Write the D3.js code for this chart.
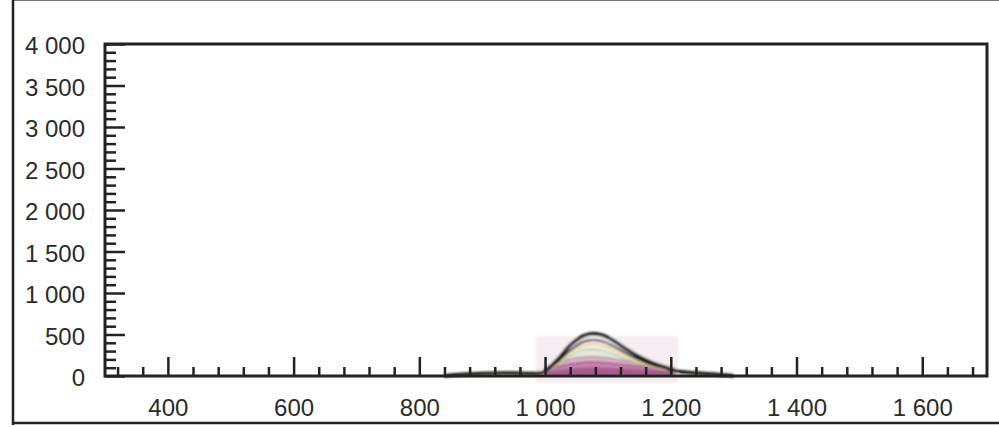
<!DOCTYPE html>
<html>
<head>
<meta charset="utf-8">
<script src="https://cdn.jsdelivr.net/npm/d3@7/dist/d3.min.js"></script>
<style>
  html, body { margin: 0; padding: 0; background: #fff; }
  svg { display: block; }
  text { font-family: "Liberation Sans", Arial, sans-serif; fill: #2b2b2b; }
</style>
</head>
<body>
<svg id="chart" width="999" height="427"></svg>
<script>
// Wavelength grid (nm) shared by every spectrum
const wavelengths = [840, 870, 900, 940, 980, 995, 1000, 1020, 1040, 1060, 1075, 1090, 1110, 1130, 1150, 1170, 1190, 1205, 1210, 1240, 1270, 1300];

// Emission spectra, outermost to innermost
const s1 = [0, 20, 30, 35, 30, 40, 60, 200, 370, 480, 510, 495, 420, 320, 230, 160, 110, 70, 60, 35, 20, 0];
const s2 = [0, 10, 20, 25, 20, 30, 50, 170, 310, 410, 435, 420, 355, 270, 195, 135, 95, 60, 50, 25, 10, 0];
const s3 = [0, 0, 0, 0, 0, 0, 40, 150, 280, 360, 385, 370, 310, 235, 170, 120, 85, 55, 0, 0, 0, 0];
const s4 = [0, 0, 0, 0, 0, 0, 40, 130, 240, 310, 325, 310, 260, 200, 150, 110, 80, 60, 0, 0, 0, 0];
const s5 = [0, 0, 0, 0, 0, 0, 100, 150, 200, 225, 230, 225, 205, 180, 155, 130, 110, 95, 0, 0, 0, 0];
const s6 = [0, 0, 0, 0, 0, 0, 70, 110, 145, 165, 170, 165, 150, 135, 120, 105, 90, 80, 0, 0, 0, 0];
const s7 = [0, 0, 0, 0, 0, 0, 50, 70, 90, 100, 105, 100, 95, 90, 85, 75, 70, 60, 0, 0, 0, 0];

// Axis ticks
const xMajorTicks = [400, 600, 800, 1000, 1200, 1400, 1600];
const xMinorTicks = d3.range(320, 1700, 40);
const yMajorTicks = [0, 500, 1000, 1500, 2000, 2500, 3000, 3500, 4000];
const yMinorTicks = d3.range(0, 4001, 100);

const svg = d3.select("#chart");

const x = d3.scaleLinear().domain([300, 1703]).range([105, 987]);
const y = d3.scaleLinear().domain([0, 4000]).range([376, 44]);

// Numbers use a space as thousands separator
const loc = d3.formatLocale({ decimal: ",", thousands: " ", grouping: [3], currency: ["", ""] });
const fmtLabel = loc.format(",d");

// Outer frame
svg.append("line").attr("x1", 13).attr("x2", 999).attr("y1", 0.5).attr("y2", 0.5)
  .attr("stroke", "#777").attr("stroke-width", 1);
svg.append("line").attr("x1", 13).attr("x2", 13).attr("y1", 0).attr("y2", 425)
  .attr("stroke", "#222").attr("stroke-width", 2.5);
svg.append("line").attr("x1", 12).attr("x2", 999).attr("y1", 423).attr("y2", 423)
  .attr("stroke", "#222").attr("stroke-width", 2.5);

// Soft patch behind the emission band
const defs = svg.append("defs");
defs.append("filter").attr("id", "soft").attr("x", "-10%").attr("y", "-20%").attr("width", "120%").attr("height", "140%")
  .append("feGaussianBlur").attr("stdDeviation", 1.1);

const band = svg.append("g").attr("filter", "url(#soft)");
band.append("rect")
  .attr("x", x(985)).attr("y", y(480))
  .attr("width", x(1212) - x(985)).attr("height", y(-80) - y(480))
  .attr("fill", "#f4edf2");

const area = d3.area().x((d, i) => x(wavelengths[i])).y0(y(0)).y1(d => y(d)).curve(d3.curveMonotoneX);
const line = d3.line().x((d, i) => x(wavelengths[i])).y(d => y(d)).curve(d3.curveMonotoneX);

// Filled spectra, back to front
band.append("path").datum(s4).attr("d", area).attr("fill", "#e2ead6");
band.append("path").datum(s5).attr("d", area).attr("fill", "#ddb5cf");
band.append("path").datum(s6).attr("d", area).attr("fill", "#c584ad");
band.append("path").datum(s7).attr("d", area).attr("fill", "#a85a8f");
band.append("path").datum(s6).attr("d", line).attr("fill", "none").attr("stroke", "#93437a").attr("stroke-width", 1.2);
band.append("path").datum(s5).attr("d", line).attr("fill", "none").attr("stroke", "#b86c9c").attr("stroke-width", 1.2);
band.append("path").datum(s4).attr("d", line).attr("fill", "none").attr("stroke", "#a9c39a").attr("stroke-width", 1.2);
band.append("path").datum(s3).attr("d", line).attr("fill", "none").attr("stroke", "#e6d590").attr("stroke-width", 2);
band.append("path").datum(s2).attr("d", line).attr("fill", "none").attr("stroke", "#2a2a2a").attr("stroke-width", 2);
band.append("path").datum(s1).attr("d", line).attr("fill", "none").attr("stroke", "#141414").attr("stroke-width", 3.5);

// Y axis: minor ticks, then major ticks with labels
svg.append("g").attr("transform", `translate(${x(300)},0)`)
  .call(d3.axisLeft(y).tickValues(yMinorTicks.filter(v => v % 500 !== 0)).tickSize(-11).tickFormat(""))
  .call(g => g.select(".domain").remove())
  .call(g => g.selectAll("line").attr("stroke", "#222").attr("stroke-width", 2.5));

svg.append("g").attr("transform", `translate(${x(300)},0)`)
  .call(d3.axisLeft(y).tickValues(yMajorTicks).tickSize(-20).tickPadding(20).tickFormat(fmtLabel))
  .call(g => g.select(".domain").remove())
  .call(g => g.selectAll("line").attr("stroke", "#222").attr("stroke-width", 2.5))
  .call(g => g.selectAll("text").attr("font-size", 24).attr("dy", "0.41em").attr("fill", "#2b2b2b"));

// X axis: minor ticks, then major ticks with labels
svg.append("g").attr("transform", `translate(0,${y(0)})`)
  .call(d3.axisBottom(x).tickValues(xMinorTicks.filter(v => v % 200 !== 0)).tickSize(-9).tickFormat(""))
  .call(g => g.select(".domain").remove())
  .call(g => g.selectAll("line").attr("stroke", "#222").attr("stroke-width", 2.5));

svg.append("g").attr("transform", `translate(0,${y(0)})`)
  .call(d3.axisBottom(x).tickValues(xMajorTicks).tickSize(-19).tickPadding(23).tickFormat(fmtLabel))
  .call(g => g.select(".domain").remove())
  .call(g => g.selectAll("line").attr("stroke", "#222").attr("stroke-width", 2.5))
  .call(g => g.selectAll("text").attr("font-size", 24).attr("fill", "#2b2b2b"));

// Plot box
svg.append("rect")
  .attr("x", x(300)).attr("y", y(4000))
  .attr("width", x(1703) - x(300)).attr("height", y(0) - y(4000))
  .attr("fill", "none").attr("stroke", "#222").attr("stroke-width", 3);
</script>
</body>
</html>
